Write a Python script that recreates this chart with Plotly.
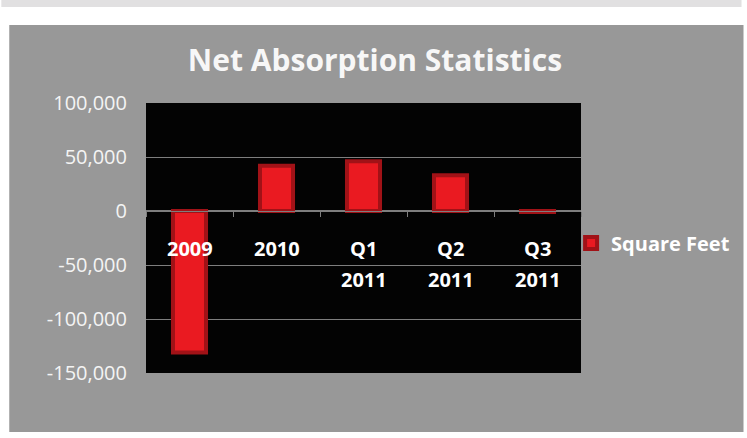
import plotly.graph_objects as go

categories = ["2009", "2010", "Q1 2011", "Q2 2011", "Q3 2011"]
label_line1 = ["2009", "2010", "Q1", "Q2", "Q3"]
label_line2 = ["", "", "2011", "2011", "2011"]
square_feet = [-131000, 42000, 46000, 33000, -1000]
y_ticks = [-150000, -100000, -50000, 0, 50000, 100000]
y_tick_labels = ["-150,000", "-100,000", "-50,000", "0", "50,000", "100,000"]

W, H = 747, 438
ML, MR, MT, MB = 146, 162, 103, 65
PW, PH = W - ML - MR, H - MT - MB

def px_x(p):
    return (p - ML) / PW

def px_y(p):
    return (H - MB - p) / PH

FONT = "Open Sans"
PANEL = "#989898"
GRID = "#7e7e7e"

fig = go.Figure()
fig.add_trace(go.Bar(
    x=categories, y=square_feet, name="Square Feet",
    marker=dict(color="#ea1a21", line=dict(color="#a11217", width=4)),
    width=0.38,
))

ymin, ymax = y_ticks[0], y_ticks[-1]
zero_pos = (0 - ymin) / (ymax - ymin)

lab_font = dict(family=FONT, size=20, color="white", weight="bold")
annotations = []
for i, (l1, l2) in enumerate(zip(label_line1, label_line2)):
    annotations.append(dict(x=i, y=0, xref="x", yref="y", text=l1, showarrow=False,
                            yshift=-37, yanchor="middle", font=lab_font))
    if l2:
        annotations.append(dict(x=i, y=0, xref="x", yref="y", text=l2, showarrow=False,
                                yshift=-68, yanchor="middle", font=lab_font))

shapes = [
    dict(type="rect", xref="paper", yref="paper", x0=px_x(0), x1=px_x(W), y0=px_y(7), y1=px_y(0),
         fillcolor="#e1e0e1", line=dict(width=0), layer="below"),
    dict(type="rect", xref="paper", yref="paper", x0=px_x(8), x1=px_x(W + 2), y0=px_y(432), y1=px_y(25),
         fillcolor=PANEL, line=dict(width=0), layer="below"),
    dict(type="rect", xref="paper", yref="paper", x0=0, x1=1, y0=0, y1=1,
         fillcolor="#030303", line=dict(width=0), layer="below"),
]

fig.update_layout(
    width=W, height=H,
    margin=dict(l=ML, r=MR, t=MT, b=MB),
    paper_bgcolor="white",
    plot_bgcolor="#030303",
    title=dict(text="Net Absorption Statistics", x=0.502, xref="container", xanchor="center",
               y=1 - 60 / H, yref="container", yanchor="middle",
               font=dict(family=FONT, size=30, color="#f7f7f7", weight="bold")),
    xaxis=dict(type="category", range=[-0.5, len(categories) - 0.5], anchor="free",
               position=zero_pos, showline=True, linecolor=GRID,
               linewidth=1, ticks="outside", tickson="boundaries", ticklen=5, tickcolor=GRID,
               showticklabels=False, showgrid=False, zeroline=False),
    yaxis=dict(range=[ymin, ymax], tickvals=y_ticks, ticktext=y_tick_labels,
               showgrid=True, gridcolor=GRID, gridwidth=1, zeroline=True, zerolinecolor=GRID,
               ticks="", ticklabelstandoff=18,
               tickfont=dict(family=FONT, size=20, color="#f4f4f4")),
    showlegend=True,
    legend=dict(x=px_x(575), xanchor="left", y=px_y(243), yanchor="middle",
                bgcolor="rgba(0,0,0,0)", font=dict(family=FONT, size=20, color="white", weight="bold")),
    annotations=annotations,
    shapes=shapes,
    bargap=0.58,
)

fig.write_html("out.html", config={"displayModeBar": False},
               post_script="document.body.style.margin='0';")
